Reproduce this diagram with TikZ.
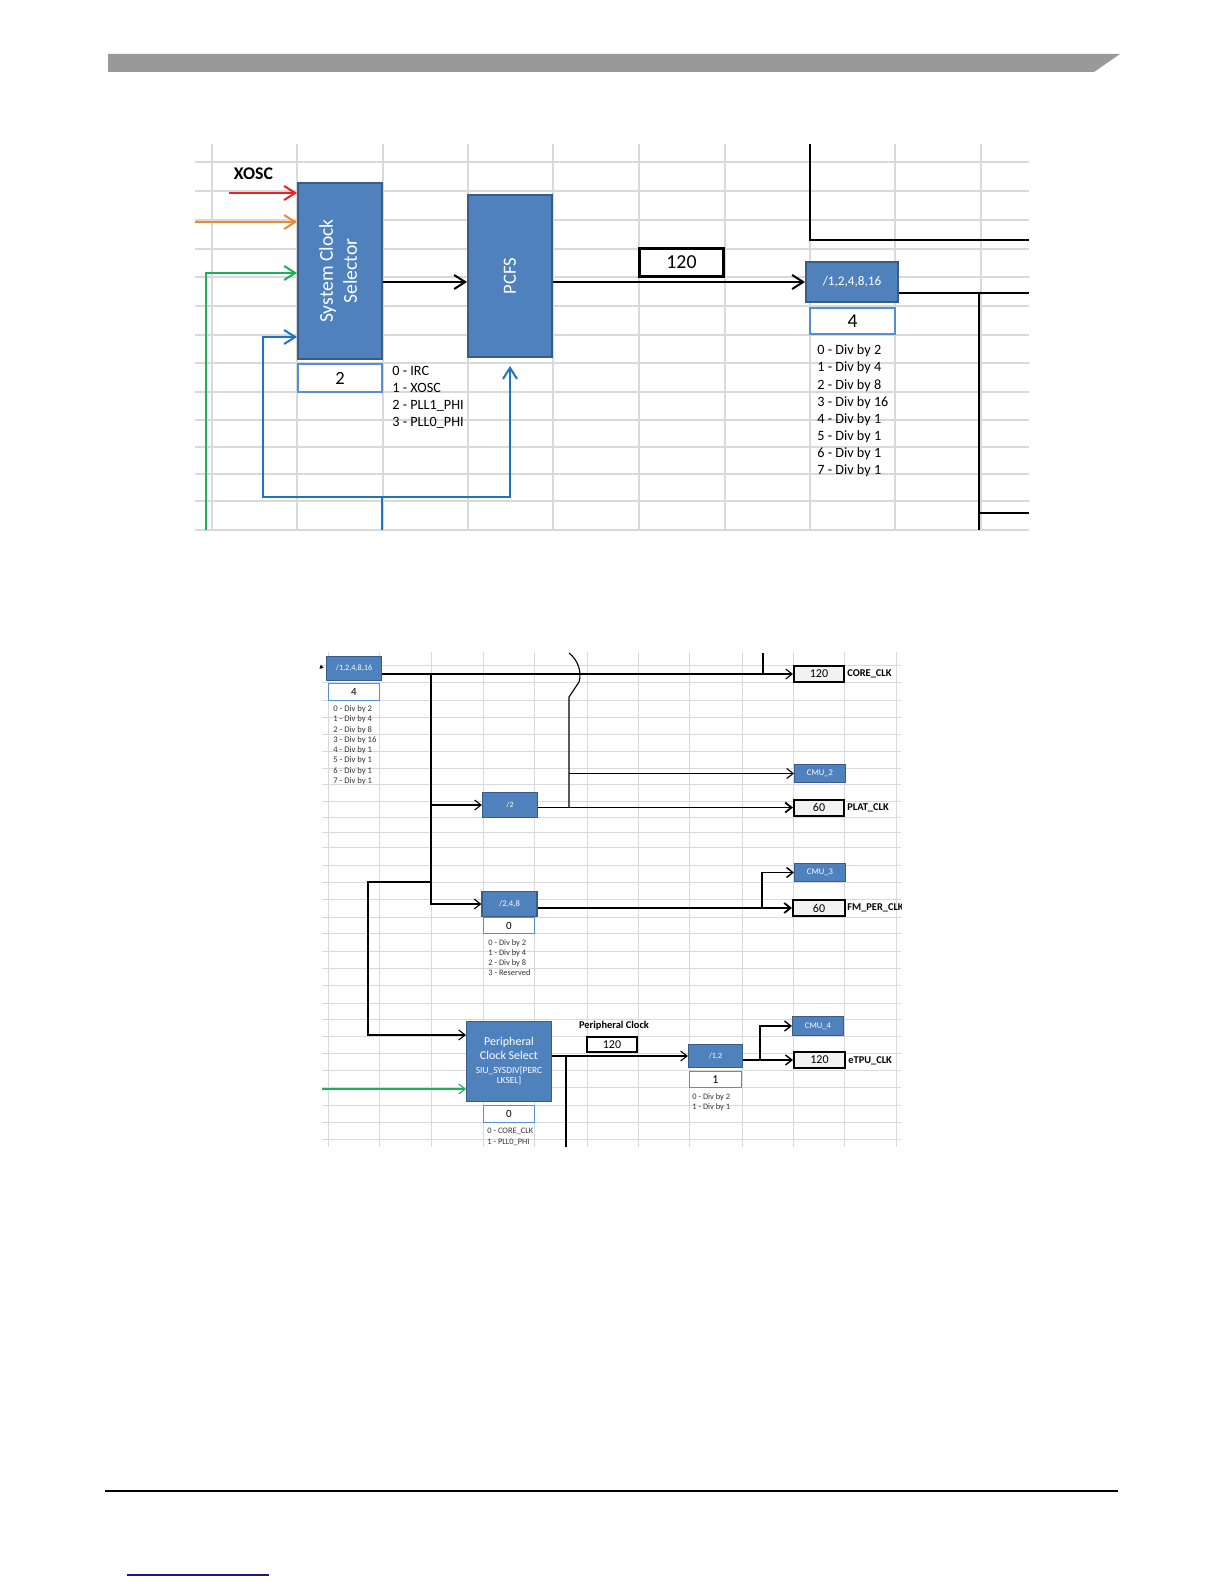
\documentclass[tikz,border=0pt]{standalone}
\usepackage{fontspec}
\setmainfont{Carlito}
\usepackage{tikz}
\usetikzlibrary{arrows.meta, positioning}

\definecolor{boxblue}{HTML}{4F81BD}
\definecolor{boxedge}{HTML}{385D8A}
\definecolor{valedge}{HTML}{558ED5}
\definecolor{gridgray}{HTML}{D9D9D9}
\definecolor{clkgray}{HTML}{F2F2F2}
\definecolor{headgray}{HTML}{999999}
\definecolor{xoscred}{HTML}{EE2027}
\definecolor{ircorange}{HTML}{EE8A2E}
\definecolor{pllgreen}{HTML}{1DAF5A}
\definecolor{fbblue}{HTML}{1F74C0}
\definecolor{navyline}{HTML}{1A1A80}

\begin{document}
\begin{tikzpicture}[x=0.5pt, y=-0.5pt,
    blk/.style={draw=boxedge, fill=boxblue, text=white, inner sep=0pt, align=center},
    valbox/.style={draw=valedge, fill=white, inner sep=0pt},
    clkbox/.style={draw=black, fill=clkgray, line width=1pt, inner sep=0pt},
    lgd/.style={anchor=base west, inner sep=0pt, align=left},
    tag/.style={anchor=west, inner sep=0pt, font=\bfseries\fontsize{5.2}{6}\selectfont},
    grid/.style={draw=gridgray, line width=0.6pt},
    wire/.style={line width=1pt},
    arr/.style={wire, -{Straight Barb[length=5.5pt, width=7pt]}},
    swire/.style={line width=0.55pt},
    sarr/.style={swire, -{Straight Barb[length=3.2pt, width=5pt]}}]

\useasboundingbox (0,0) rectangle (1224,1584);

% page header and footer
\fill[headgray] (108,54) -- (1120,54) -- (1094,72) -- (108,72) -- cycle;
\draw[line width=0.8pt] (105,1491) -- (1118,1491);
\draw[navyline, line width=0.8pt] (127,1575) -- (269,1575);

% ---- upper sheet ----
\foreach \gx in {212,297,383,468,553,639,725,810,895,981}
  \draw[grid] (\gx,144) -- (\gx,530);
\foreach \gy in {162,191,220,249,277,306,335,363,392,420,447,474,501,530}
  \draw[grid] (195,\gy) -- (1029,\gy);

\node[blk, line width=1.2pt, minimum width=41.8pt, minimum height=87.8pt,
      font=\fontsize{9.8}{12}\selectfont] (scs) at (340,271)
      {\rotatebox{90}{\begin{tabular}{@{}c@{}}System Clock\\Selector\end{tabular}}};
\node[valbox, line width=1.2pt, minimum width=41.8pt, minimum height=13.8pt,
      font=\fontsize{9.3}{11}\selectfont] (scsval) at (340,378) {2};
% legends sit on the baseline of their last line
\node[lgd, font=\fontsize{7.1}{8.5}\selectfont] (scslgd) at (392,426.5)
      {0 - IRC\\1 - XOSC\\2 - PLL1\_PHI\\3 - PLL0\_PHI};
\node[font=\bfseries\fontsize{8.9}{10}\selectfont, inner sep=0pt] (xosclbl) at (253.5,174) {XOSC};

\node[blk, line width=1.2pt, minimum width=41.8pt, minimum height=80.8pt,
      font=\fontsize{9.3}{11}\selectfont] (pcfs) at (510,276) {\rotatebox{90}{PCFS}};
\node[draw, line width=1.5pt, minimum width=42pt, minimum height=14pt, inner sep=0pt,
      font=\fontsize{9.9}{12}\selectfont] (fsys) at (681.5,262.5) {120};
\node[blk, line width=1.2pt, minimum width=45.8pt, minimum height=19.8pt,
      font=\fontsize{6.6}{8}\selectfont] (sysdiv) at (852,282) {/1,2,4,8,16};
\node[valbox, line width=1.2pt, minimum width=42.3pt, minimum height=12.8pt,
      font=\fontsize{9.8}{12}\selectfont] (sysdivval) at (852.5,321) {4};
\node[lgd, font=\fontsize{7.1}{8.55}\selectfont] (sysdivlgd) at (817,474.5)
      {0 - Div by 2\\1 - Div by 4\\2 - Div by 8\\3 - Div by 16\\4 - Div by 1\\5 - Div by 1\\6 - Div by 1\\7 - Div by 1};

\coordinate (xoscin) at (229,193);
\coordinate (ircin) at (195,222);
\coordinate (pllin) at (206,530);
\coordinate (fbin) at (382,530);
\coordinate (fb) at (382,497);
\coordinate (topin) at (810,144);
\coordinate (topout) at (1029,240);
\coordinate (sysout) at (1029,293);
\coordinate (sysdown) at (979,530);
\coordinate (sysout2) at (1029,513);

\draw[arr, xoscred] (xoscin) -- (scs.west |- xoscin);
\draw[arr, ircorange] (ircin) -- (scs.west |- ircin);
\draw[arr, pllgreen] (pllin) |- (scs.west |- 0,273);
\draw[wire, fbblue] (fbin) -- (fb);
\draw[arr, fbblue] (fb) -| (263,337) -- (scs.west |- 0,337);
\draw[arr, fbblue, shorten >=4pt] (fb) -| (pcfs.south);
\draw[arr] (scs.east |- sysdiv.west) -- (pcfs.west |- sysdiv.west);
\draw[arr] (pcfs.east |- sysdiv.west) -- (sysdiv.west);
\draw[wire] (topin) |- (topout);
\draw[wire] (sysdiv.east |- sysout) -- (sysout);
\draw[wire] (sysdown |- sysout) -- (sysdown);
\draw[wire] (sysdown |- sysout2) -- (sysout2);

% ---- lower sheet ----
\foreach \gx in {328,379,431,483,534,587,638,689,742,793,844,896}
  \draw[grid, line width=0.5pt] (\gx,652) -- (\gx,1147);
\foreach \gy in {665,682,700,717,734,751,768,784,801,817,832,847,865,882,899,917,933,951,968,985,1003,1019,1036,1053,1070,1087,1105,1122,1139}
  \draw[grid, line width=0.5pt] (322,\gy) -- (901,\gy);

\node[blk, line width=0.6pt, minimum width=27.5pt, minimum height=12pt,
      font=\fontsize{4.1}{5}\selectfont] (cpudiv) at (354,668.5) {/1,2,4,8,16};
\node[valbox, line width=0.6pt, minimum width=25.5pt, minimum height=8.5pt,
      font=\fontsize{5.5}{6}\selectfont] (cpudivval) at (354,692) {4};
\node[lgd, text=black!80, font=\fontsize{4.3}{5.15}\selectfont] (cpudivlgd) at (333,783.5)
      {0 - Div by 2\\1 - Div by 4\\2 - Div by 8\\3 - Div by 16\\4 - Div by 1\\5 - Div by 1\\6 - Div by 1\\7 - Div by 1};

\node[clkbox, minimum width=25pt, minimum height=8pt, font=\fontsize{6}{7}\selectfont] (coreclk) at (819,674) {120};
\node[tag] (corelbl) at (847,674) {CORE\_CLK};
\node[blk, line width=0.5pt, minimum width=25.5pt, minimum height=9pt,
      font=\fontsize{4.3}{5}\selectfont] (cmu2) at (820,773.5) {CMU\_2};
\node[clkbox, minimum width=25pt, minimum height=8pt, font=\fontsize{6}{7}\selectfont] (plat) at (819,807.5) {60};
\node[tag] (platlbl) at (847,807.5) {PLAT\_CLK};
\node[blk, line width=0.6pt, minimum width=27.5pt, minimum height=12.5pt,
      font=\fontsize{4}{5}\selectfont] (platdiv) at (510,805) {/2};

\node[blk, line width=0.6pt, minimum width=27.5pt, minimum height=12.5pt,
      font=\fontsize{4.3}{5}\selectfont] (fmdiv) at (509.5,904) {/2,4,8};
\node[valbox, line width=0.6pt, minimum width=25.5pt, minimum height=8pt,
      font=\fontsize{5.5}{6}\selectfont] (fmval) at (509,925.5) {0};
\node[lgd, text=black!80, font=\fontsize{4.2}{5}\selectfont] (fmlgd) at (488,975.5)
      {0 - Div by 2\\1 - Div by 4\\2 - Div by 8\\3 - Reserved};
\node[blk, line width=0.5pt, minimum width=25.5pt, minimum height=9pt,
      font=\fontsize{4.3}{5}\selectfont] (cmu3) at (820,872.5) {CMU\_3};
\node[clkbox, minimum width=26pt, minimum height=8pt, font=\fontsize{6}{7}\selectfont] (fmper) at (819,908) {60};
\begin{scope}
  \clip (840,890) rectangle (901,925);
  \node[tag] (fmlbl) at (847,908) {FM\_PER\_CLK};
\end{scope}

\node[blk, line width=0.7pt, minimum width=42.3pt, minimum height=40pt,
      font=\fontsize{5}{7}\selectfont] (perisel) at (509,1061.5)
      {\begin{tabular}{@{}c@{}}\fontsize{6}{7}\selectfont Peripheral\\
       \fontsize{6}{7}\selectfont Clock Select\\
       \fontsize{4.7}{5}\selectfont SIU\_SYSDIV[PERC\\[-2pt]
       \fontsize{4.7}{5}\selectfont LKSEL]\end{tabular}};
\node[valbox, line width=0.6pt, minimum width=25.5pt, minimum height=8.5pt,
      font=\fontsize{5.5}{6}\selectfont] (perival) at (509,1114) {0};
\node[lgd, text=black!80, font=\fontsize{4.2}{5.5}\selectfont] (perilgd) at (487,1144.5)
      {0 - CORE\_CLK\\1 - PLL0\_PHI};
\node[draw, fill=white, line width=0.8pt, minimum width=25.2pt, minimum height=7.7pt, inner sep=0pt,
      font=\fontsize{6}{7}\selectfont] (periclk) at (612,1044.5) {120};
\node[font=\bfseries\fontsize{5.2}{6}\selectfont, inner sep=0pt] (periclklbl) at (614,1026) {Peripheral Clock};

\node[blk, line width=0.6pt, minimum width=27pt, minimum height=11.5pt,
      font=\fontsize{4}{5}\selectfont] (etpudiv) at (715.5,1056) {/1,2};
\node[valbox, line width=0.6pt, minimum width=26pt, minimum height=8pt,
      font=\fontsize{6}{7}\selectfont] (etpuval) at (715.5,1079.5) {1};
\node[lgd, text=black!80, font=\fontsize{4.2}{5}\selectfont] (etpulgd) at (692,1109.5)
      {0 - Div by 2\\1 - Div by 1};
\node[blk, line width=0.5pt, minimum width=25.5pt, minimum height=9.5pt,
      font=\fontsize{4.3}{5}\selectfont] (cmu4) at (818,1026) {CMU\_4};
\node[clkbox, minimum width=25.5pt, minimum height=8pt, font=\fontsize{6}{7}\selectfont] (etpu) at (819.5,1060) {120};
\node[tag] (etpulbl) at (848,1061) {eTPU\_CLK};

\coordinate (cpuin) at (321,667);
\coordinate (corein) at (763,653);
\coordinate (tap) at (431,674);
\coordinate (hop) at (569,653);
\coordinate (fmtap) at (762,908);
\coordinate (plln) at (322,1089);
\coordinate (peridown) at (566,1147);
\coordinate (etputap) at (760,1060);

\draw[swire, -{Latex[length=2pt, width=2.4pt]}, shorten >=1pt] (cpuin) -- (cpudiv.west);
\draw[sarr] (cpudiv.east |- coreclk.west) -- (coreclk.west);
\draw[swire] (corein) -- (corein |- coreclk.west);
\draw[sarr] (tap) |- (platdiv.west);
\draw[sarr] (tap) |- (fmdiv.west);
\draw[sarr] (tap |- 0,882) -- (368,882) |- (perisel.west |- 0,1035);
\draw[sarr, pllgreen] (plln) -- (perisel.west |- plln);
\draw[sarr, line width=0.9pt] (platdiv.east |- plat.west) -- (plat.west);
\draw[swire] (hop) .. controls (578,660) and (582,672) .. (579,682) -- (569,697) -- (hop |- plat.west);
\draw[sarr] (hop |- cmu2.west) -- (cmu2.west);
\draw[sarr, line width=0.9pt] (fmdiv.east |- fmper.west) -- (fmper.west);
\draw[sarr, line width=0.7pt] (fmtap) |- (cmu3.west);
\draw[sarr] (perisel.east |- etpudiv.west) -- (etpudiv.west);
\draw[swire] (peridown |- etpudiv.west) -- (peridown);
\draw[sarr, line width=0.7pt] (etpudiv.east |- etpu.west) -- (etpu.west);
\draw[sarr, line width=0.7pt] (etputap) |- (cmu4.west);

\end{tikzpicture}
\end{document}
